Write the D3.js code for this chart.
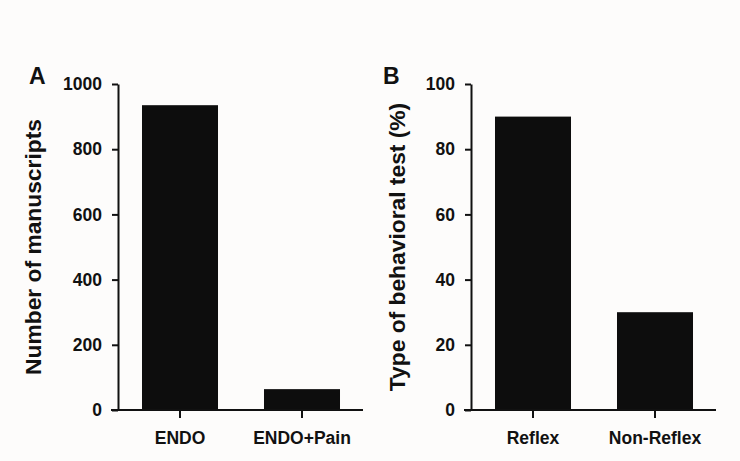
<!DOCTYPE html>
<html>
<head>
<meta charset="utf-8">
<script src="https://cdn.jsdelivr.net/npm/d3@7"></script>
<style>
  html, body { margin: 0; padding: 0; background: #fdfcfb; }
  svg { display: block; }
  text { font-family: "Liberation Sans", Arial, sans-serif; font-weight: bold; fill: #111; }
</style>
</head>
<body>
<svg id="chart" width="740" height="461"></svg>
<script>
// Panel A data
const catsA = ["ENDO", "ENDO+Pain"];
const valuesA = [935, 64];
const ticksA = [0, 200, 400, 600, 800, 1000];
// Panel B data
const catsB = ["Reflex", "Non-Reflex"];
const valuesB = [90, 30];
const ticksB = [0, 20, 40, 60, 80, 100];

const svg = d3.select("#chart");
svg.append("rect").attr("width", 740).attr("height", 461).attr("fill", "#fdfcfb");

function panel(opts) {
  const g = svg.append("g");
  const y = d3.scaleLinear().domain([0, opts.max]).range([410, 84]);
  const x = d3.scaleBand().domain(opts.cats).range([opts.axisX + 1, opts.axisX + 245])
    .paddingInner(0.377).paddingOuter(0.1885);

  // bars
  g.selectAll("rect.bar").data(opts.values).enter().append("rect")
    .attr("class", "bar")
    .attr("x", (d, i) => x(opts.cats[i]))
    .attr("width", x.bandwidth())
    .attr("y", d => y(d))
    .attr("height", d => y(0) - y(d))
    .attr("fill", "#0d0d0d");

  // y axis
  const ya = g.append("g").attr("transform", `translate(${opts.axisX},0)`)
    .call(d3.axisLeft(y).tickValues(opts.ticks).tickFormat(d3.format("d"))
      .tickSize(6).tickSizeOuter(0).tickPadding(10));
  ya.select(".domain").attr("stroke", "#111").attr("stroke-width", 2);
  ya.selectAll(".tick line").attr("stroke", "#111").attr("stroke-width", 2);
  ya.selectAll(".tick text").attr("font-size", "17.5px")
    .attr("font-family", "Liberation Sans, Arial, sans-serif").attr("font-weight", "bold").attr("fill", "#111");

  // x axis
  const xa = g.append("g").attr("transform", `translate(0,410)`)
    .call(d3.axisBottom(x).tickSize(8).tickSizeOuter(0).tickPadding(14));
  xa.select(".domain").remove();
  xa.append("line").attr("x1", opts.axisX - 7).attr("x2", x.range()[1])
    .attr("y1", 0).attr("y2", 0).attr("stroke", "#111").attr("stroke-width", 2);
  xa.selectAll(".tick line").attr("stroke", "#111").attr("stroke-width", 2);
  xa.selectAll(".tick text").attr("font-size", "17.5px")
    .attr("font-family", "Liberation Sans, Arial, sans-serif").attr("font-weight", "bold").attr("fill", "#111");

  // y title
  g.append("text")
    .attr("transform", `translate(${opts.titleX},247) rotate(-90)`)
    .attr("text-anchor", "middle")
    .attr("font-size", "22.8px")
    .text(opts.title);

  // panel label
  g.append("text").attr("x", opts.labelX).attr("y", 84)
    .attr("font-size", "23px").text(opts.label);
}

panel({ cats: catsA, values: valuesA, ticks: ticksA, max: 1000, axisX: 118,
        title: "Number of manuscripts", titleX: 41, label: "A", labelX: 29 });
panel({ cats: catsB, values: valuesB, ticks: ticksB, max: 100, axisX: 471,
        title: "Type of behavioral test (%)", titleX: 405, label: "B", labelX: 383 });
</script>
</body>
</html>
